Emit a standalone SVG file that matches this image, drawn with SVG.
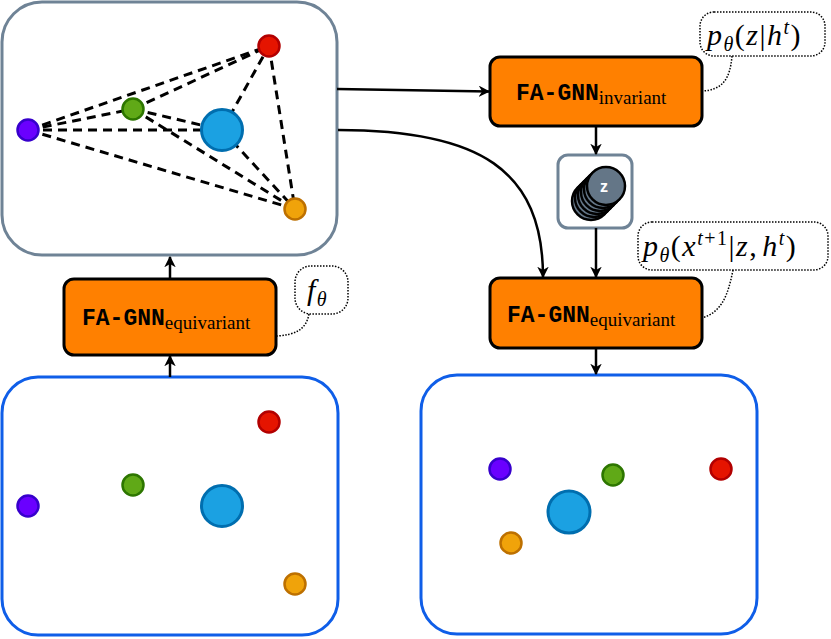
<svg xmlns="http://www.w3.org/2000/svg" width="831" height="639" viewBox="0 0 831 639">
<defs>
<marker id="arr" viewBox="0 0 10 10" refX="9" refY="5" markerWidth="4.6" markerHeight="4.6" orient="auto" markerUnits="strokeWidth">
<path d="M0,0 L10,5 L0,10 L3,5 z" fill="#000"/>
</marker>
<style>
.frame-g{fill:#fff;stroke:#6f8396;stroke-width:3}
.frame-b{fill:#fff;stroke:#0f5ee8;stroke-width:3}
.block{fill:#ff8000;stroke:#000;stroke-width:3}
.edge{fill:none;stroke:#000;stroke-width:2.5;marker-end:url(#arr)}
.dash{fill:none;stroke:#000;stroke-width:3;stroke-dasharray:9 6}
.bubble{fill:#fff;stroke:#000;stroke-width:1.5;stroke-dasharray:1.5 1.5}
.tail{fill:none;stroke:#000;stroke-width:1.5;stroke-dasharray:1.5 1.5}
.red{fill:#e51400;stroke:#b20000;stroke-width:2.5}
.green{fill:#60a917;stroke:#2d7600;stroke-width:2.5}
.purple{fill:#6a00ff;stroke:#3700cc;stroke-width:2.5}
.blue{fill:#1ba1e2;stroke:#006eaf;stroke-width:3}
.orange{fill:#f0a30a;stroke:#bd7000;stroke-width:2.5}
.mono{font-family:"Liberation Mono","DejaVu Sans Mono",monospace;font-weight:bold;font-size:23px}
.sub{font-family:"Liberation Serif","DejaVu Serif",serif;font-size:19px;font-weight:normal}
.math{font-family:"Liberation Serif","DejaVu Serif",serif;font-size:30px;letter-spacing:1.5px}
.zc{fill:#647687;stroke:#000;stroke-width:2.5}
</style>
</defs>

<g id="graph-frame">
<rect class="frame-g" x="2" y="2" width="335" height="253" rx="40"/>
<g id="graph-edges">
<line class="dash" x1="28" y1="130" x2="269" y2="46"/>
<line class="dash" x1="28" y1="130" x2="133" y2="109"/>
<line class="dash" x1="28" y1="130" x2="222" y2="130"/>
<line class="dash" x1="28" y1="130" x2="295" y2="209"/>
<line class="dash" x1="133" y1="109" x2="269" y2="46"/>
<line class="dash" x1="133" y1="109" x2="222" y2="130"/>
<line class="dash" x1="133" y1="109" x2="295" y2="209"/>
<line class="dash" x1="222" y1="130" x2="269" y2="46"/>
<line class="dash" x1="222" y1="130" x2="295" y2="209"/>
<line class="dash" x1="269" y1="46" x2="295" y2="209"/>
</g>
<circle class="red" cx="269" cy="46" r="10.5"/>
<circle class="green" cx="133" cy="109" r="10.5"/>
<circle class="purple" cx="28" cy="130" r="10.5"/>
<circle class="blue" cx="222" cy="130" r="20.5"/>
<circle class="orange" cx="295" cy="209" r="10.5"/>
</g>

<g id="input-frame">
<rect class="frame-b" x="2" y="377" width="336" height="258" rx="36"/>
<circle class="red" cx="269" cy="422" r="10.5"/>
<circle class="green" cx="133" cy="485" r="10.5"/>
<circle class="purple" cx="28" cy="506" r="10.5"/>
<circle class="blue" cx="222" cy="506" r="20.5"/>
<circle class="orange" cx="295" cy="584" r="10.5"/>
</g>

<g id="output-frame">
<rect class="frame-b" x="421" y="375" width="336" height="259" rx="36"/>
<circle class="purple" cx="500" cy="469" r="10.5"/>
<circle class="green" cx="613" cy="475" r="10.5"/>
<circle class="red" cx="721" cy="469" r="10.5"/>
<circle class="blue" cx="569" cy="512" r="21"/>
<circle class="orange" cx="511" cy="543" r="10.5"/>
</g>

<g id="fagnn-left">
<rect class="block" x="64" y="279" width="212" height="76" rx="10"/>
<text x="82" y="325" class="mono">FA-GNN<tspan class="sub" dy="4">equivariant</tspan></text>
</g>

<g id="fagnn-invariant">
<rect class="block" x="490" y="57" width="212" height="69" rx="10"/>
<text x="516" y="100" class="mono">FA-GNN<tspan class="sub" dy="4">invariant</tspan></text>
</g>

<g id="fagnn-right">
<rect class="block" x="490" y="278" width="212" height="70" rx="10"/>
<text x="507" y="322" class="mono">FA-GNN<tspan class="sub" dy="4">equivariant</tspan></text>
</g>

<g id="z-node">
<rect x="558" y="155" width="74" height="73" rx="10" fill="#fff" stroke="#6f8396" stroke-width="3"/>
<circle class="zc" cx="591" cy="201" r="19"/>
<circle class="zc" cx="594" cy="198" r="19"/>
<circle class="zc" cx="597" cy="195" r="19"/>
<circle class="zc" cx="600" cy="192" r="19"/>
<circle class="zc" cx="603" cy="189" r="19"/>
<circle class="zc" cx="606" cy="186" r="19"/>
<text x="604" y="192" text-anchor="middle" font-family="Liberation Sans, Arial, sans-serif" font-weight="bold" font-size="16" fill="#fff">z</text>
</g>

<g id="label-f">
<rect class="bubble" x="295" y="266" width="53" height="48" rx="16"/>
<path class="tail" d="M309,314 C306,330 295,335 276,336"/>
<text x="307" y="300" class="math"><tspan font-style="italic">f</tspan><tspan font-style="italic" font-size="20" dy="6">θ</tspan></text>
</g>

<g id="label-pz">
<rect class="bubble" x="700" y="12" width="125" height="44" rx="14"/>
<path class="tail" d="M732,56 C730,80 722,90 702,91"/>
<text x="707" y="45" class="math"><tspan font-style="italic">p</tspan><tspan font-style="italic" font-size="20" dy="6">θ</tspan><tspan dy="-6">(</tspan><tspan font-style="italic">z</tspan><tspan>|</tspan><tspan font-style="italic">h</tspan><tspan font-style="italic" font-size="20" dy="-11">t</tspan><tspan dy="11">)</tspan></text>
</g>

<g id="label-px">
<rect class="bubble" x="638" y="222" width="190" height="48" rx="14"/>
<path class="tail" d="M733,270 C728,295 722,312 702,318"/>
<text x="643" y="256" class="math"><tspan font-style="italic">p</tspan><tspan font-style="italic" font-size="20" dy="6">θ</tspan><tspan dy="-6">(</tspan><tspan font-style="italic">x</tspan><tspan font-size="20" dy="-11"><tspan font-style="italic">t</tspan>+1</tspan><tspan dy="11">|</tspan><tspan font-style="italic">z</tspan><tspan>,</tspan><tspan font-style="italic" dx="4">h</tspan><tspan font-style="italic" font-size="20" dy="-11">t</tspan><tspan dy="11">)</tspan></text>
</g>

<g id="connectors">
<path class="edge" d="M337,89 L489,91.5"/>
<path class="edge" d="M338,130 C480,130 543,170 543,277"/>
<path class="edge" d="M596,126 L596,154"/>
<path class="edge" d="M596,228 L596,277"/>
<path class="edge" d="M596,348 L596,374"/>
<path class="edge" d="M170,279 L170,257"/>
<path class="edge" d="M170,377 L170,356"/>
</g>
</svg>
